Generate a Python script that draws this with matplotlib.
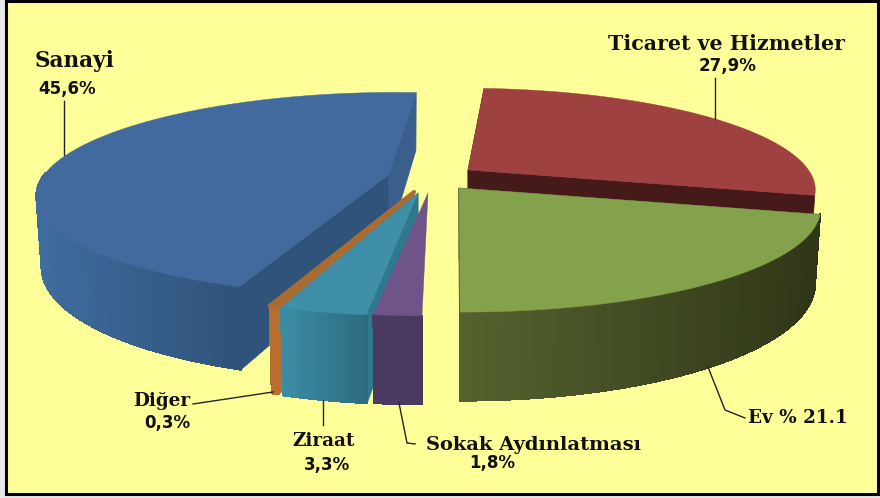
import numpy as np
import matplotlib
matplotlib.use('Agg')
import matplotlib.pyplot as plt
from matplotlib.collections import PolyCollection
from matplotlib.colors import to_rgb
from matplotlib.patches import Polygon, Rectangle

# clockwise from the top of the pie
sectors = ['Ticaret ve Hizmetler', 'Ev', 'Sokak Aydınlatması', 'Ziraat', 'Diğer', 'Sanayi']
shares = [27.9, 21.1, 1.8, 3.3, 0.3, 45.6]
share_labels = ['27,9%', '% 21.1', '1,8%', '3,3%', '0,3%', '45,6%']

top_colors = ['#A04141', '#84A14B', '#6E5488', '#3F8FA8', '#A96B30', '#426A9E']
side_left = ['#4A1A1A', '#55622F', '#4B3A60', '#3B8DA4', '#B86E2C', '#3F6C9E']
side_right = ['#4A1A1A', '#2F3617', '#4B3A60', '#2C6C80', '#B86E2C', '#2F5279']
front_cut = ['#471A1A', '#3A4220', '#4B3A60', '#30788E', '#B86E2C', '#3A5F8C']
back_cut = ['#471A1A', '#3A4220', '#4B3A60', '#30788E', '#B86E2C', '#30537B']

# explosion of each slice from the pie centre, pixels
explode = [(43, -22), (34, -4), (3, 1), (-7, 1), (-11, 0), (-37, -17)]
size = [0.97, 1.01, 1.0, 1.0, 1.0, 0.98]
tall = [1.0, 1.0, 1.0, 1.0, 1.0, 0.95]
skew = [-4, -4, 3, 0, 0, 8]
draw_order = [0, 5, 4, 3, 2, 1]
start_angle = 4.0

centre = (425, 192)
radius = 351.0
squash = 100.0
persp = 0.186
depth = 72.0


def project(theta, z, i):
    u = np.sin(np.radians(theta))
    v = -np.cos(np.radians(theta))
    scale = 1.0 / (1.0 - persp * v)
    shrink = 1.0 - 0.015 * z
    x = centre[0] + explode[i][0] + radius * size[i] * u * scale * shrink - skew[i] * v
    y = centre[1] + explode[i][1] + (squash * size[i] * v + depth * tall[i] * z) * scale
    return x, y


def apex(z, i):
    return centre[0] + explode[i][0], centre[1] + explode[i][1] + depth * tall[i] * z


def draw_slice(ax, t0, t1, i):
    th = np.linspace(t0, t1, max(int(t1 - t0) * 4, 8))
    xt, yt = project(th, 0, i)
    xb, yb = project(th, 1, i)

    # flat cut faces, the purple slice shows none of them
    if sectors[i] != 'Sokak Aydınlatması':
        ax.add_patch(Polygon([apex(0, i), (xt[-1], yt[-1]), (xb[-1], yb[-1]), apex(1, i)],
                             fc=front_cut[i], ec=front_cut[i], lw=0.5))
        ax.add_patch(Polygon([apex(0, i), (xt[0], yt[0]), (xb[0], yb[0]), apex(1, i)],
                             fc=back_cut[i], ec=back_cut[i], lw=0.5))

    # rounded outer wall, front half only, shaded along x
    if sectors[i] != 'Ticaret ve Hizmetler':
        front = np.where(-np.cos(np.radians(th)) > -0.02)[0]
        quads = []
        cols = []
        c0 = np.array(to_rgb(side_left[i]))
        c1 = np.array(to_rgb(side_right[i]))
        xmin, xmax = xt[front].min(), xt[front].max()
        for k in front[:-1]:
            quads.append([(xt[k], yt[k]), (xt[k + 1], yt[k + 1]), (xb[k + 1], yb[k + 1]), (xb[k], yb[k])])
            f = (xt[k] - xmin) / max(xmax - xmin, 1)
            cols.append(c0 + (c1 - c0) * f)
        ax.add_collection(PolyCollection(quads, facecolors=cols, edgecolors=cols,
                                         linewidths=0.8, antialiaseds=False))

    # top surface
    pts = [apex(0, i)] + list(zip(xt, yt))
    lw = 3 if sectors[i] == 'Diğer' else 0.3
    ax.add_patch(Polygon(pts, fc=top_colors[i], ec=top_colors[i], lw=lw, joinstyle='round'))


def main():
    fig = plt.figure(figsize=(8.8, 4.98), dpi=100, facecolor='#E8E8E8')
    ax = fig.add_axes([0, 0, 1, 1])
    ax.set_xlim(0, 880)
    ax.set_ylim(498, 0)
    ax.axis('off')

    ax.add_patch(Rectangle((5.5, 0.5), 872, 493, fc='#FFFF99', ec='black', lw=2.2))

    edges = start_angle + np.concatenate([[0], np.cumsum(shares)]) * 3.6
    for i in draw_order:
        draw_slice(ax, edges[i], edges[i + 1], i)

    # leader lines
    leaders = [([64, 64], [101, 155]),
               ([715, 715], [78, 119]),
               ([708, 725, 745], [367, 410, 418]),
               ([323, 323], [400, 425]),
               ([399, 407, 415], [403, 443, 444]),
               ([193, 273], [404, 392])]
    for xs, ys in leaders:
        ax.plot(xs, ys, color='#222222', lw=1.0)

    name_kw = dict(family='DejaVu Serif', weight='bold', color='#111111',
                   ha='center', va='center')
    pct_kw = dict(family='DejaVu Sans', weight='bold', size=12, color='#111111',
                  ha='center', va='center')

    ax.text(75, 61, sectors[5], size=15.5, **name_kw)
    ax.text(67, 89, share_labels[5], **pct_kw)
    ax.text(726, 44, sectors[0], size=14.8, **name_kw)
    ax.text(728, 66, share_labels[0], **pct_kw)
    ax.text(798, 418, sectors[1] + ' ' + share_labels[1], size=13.2, **name_kw)
    ax.text(324, 441, sectors[3], size=13.2, **name_kw)
    ax.text(327, 465, share_labels[3], **pct_kw)
    ax.text(534, 445, sectors[2], size=14, **name_kw)
    ax.text(492, 463, share_labels[2], **pct_kw)
    ax.text(162, 401, sectors[4], size=13.2, **name_kw)
    ax.text(167, 423, share_labels[4], **pct_kw)

    fig.savefig('out.png', dpi=100, facecolor=fig.get_facecolor())
    plt.close(fig)


if __name__ == '__main__':
    main()
